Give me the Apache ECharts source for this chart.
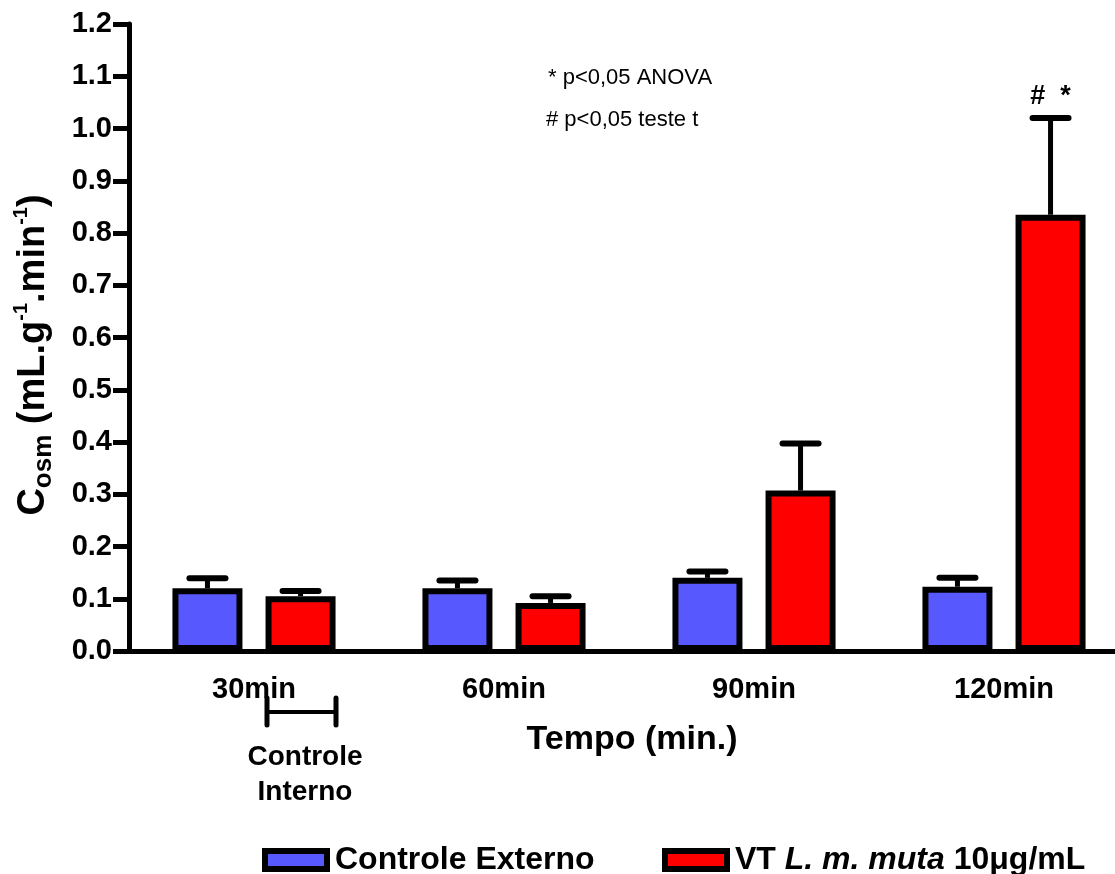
<!DOCTYPE html>
<html>
<head>
<meta charset="utf-8">
<script src="https://cdn.jsdelivr.net/npm/echarts@6/dist/echarts.min.js"></script>
<style>
html,body{margin:0;padding:0;background:#fff;}
#chart{width:1115px;height:874px;}
</style>
</head>
<body>
<div id="chart"></div>
<script>
// ---- data ----
const categories = ['30min', '60min', '90min', '120min'];
const externoMean = [0.120, 0.120, 0.140, 0.123];
const externoErr  = [0.019, 0.015, 0.012, 0.017];
const vtMean = [0.105, 0.092, 0.307, 0.835];
const vtErr  = [0.010, 0.013, 0.090, 0.185];
const vtSig  = ['', '', '', '#  *'];
const yTicks = { min: 0, max: 1.2, step: 0.1 };

const FONT = '"Liberation Sans", Arial, Helvetica, sans-serif';
const BAR_W = 70;
const BAR_GAP_FRAC = 0.33;
const BAR_GAP = (BAR_GAP_FRAC * 100) + '%';

function errorSeries(name, means, errs, idx, sig) {
  return {
    type: 'custom',
    name: name + ' err',
    z: 1,
    silent: true,
    data: means.map((m, i) => [i, m, m + errs[i], sig ? sig[i] : '']),
    encode: { x: 0, y: [1, 2] },
    renderItem: function (params, api) {
      const ci = api.value(0);
      const top = api.coord([ci, api.value(2)]);
      const base = api.coord([ci, api.value(1)]);
      let off;
      try {
        const layout = api.barLayout({ barWidth: BAR_W, barGap: BAR_GAP, count: 2 });
        off = layout[idx].offsetCenter;
      } catch (e) {
        const gap = BAR_W * BAR_GAP_FRAC;
        off = (idx === 0 ? -1 : 1) * (BAR_W + gap) / 2;
      }
      const x = top[0] + off;
      const capHalf = 18;
      const children = [
        { type: 'line', shape: { x1: x, y1: base[1], x2: x, y2: top[1] },
          style: { stroke: '#000', lineWidth: 5 } },
        { type: 'line', shape: { x1: x - capHalf, y1: top[1], x2: x + capHalf, y2: top[1] },
          style: { stroke: '#000', lineWidth: 6, lineCap: 'round' } }
      ];
      const s = api.value(3);
      if (s) {
        children.push({ type: 'text', x: x, y: top[1] - 22,
          style: { text: s, fontFamily: FONT, fontWeight: 'bold', fontSize: 27,
                   fill: '#000', align: 'center', verticalAlign: 'middle' } });
      }
      return { type: 'group', children: children };
    }
  };
}

const chart = echarts.init(document.getElementById('chart'), null, { renderer: 'canvas' });

const legendBase = {
  orient: 'horizontal',
  top: 844,
  padding: 0,
  itemWidth: 62,
  itemHeight: 18,
  itemGap: 4,
  icon: 'rect',
  selectedMode: false,
  textStyle: { fontFamily: FONT, fontWeight: 'bold', fontSize: 32, color: '#000', padding: [0, 0, 0, 3] }
};

chart.setOption({
  animation: false,
  backgroundColor: '#fff',
  grid: { left: 129, top: 24, width: 1000, height: 627, outerBoundsMode: 'none', containLabel: false },
  legend: [
    Object.assign({}, legendBase, {
      left: 262,
      data: [{ name: 'Controle Externo', itemStyle: { color: '#5858ff', borderColor: '#000', borderWidth: 6 } }]
    }),
    Object.assign({}, legendBase, {
      left: 662,
      data: [{ name: 'VT', itemStyle: { color: '#ff0000', borderColor: '#000', borderWidth: 6 } }],
      formatter: function () { return '{b|VT }{i|L. m. muta}{b| 10μg/mL}'; },
      textStyle: Object.assign({}, legendBase.textStyle, {
        rich: {
          b: { fontFamily: FONT, fontWeight: 'bold', fontSize: 32, color: '#000' },
          i: { fontFamily: FONT, fontWeight: 'bold', fontStyle: 'italic', fontSize: 32, color: '#000' }
        }
      })
    })
  ],
  xAxis: {
    type: 'category',
    data: categories,
    axisLine: { lineStyle: { color: '#000', width: 5 } },
    axisTick: { alignWithLabel: true, length: 14, lineStyle: { color: '#000', width: 5 } },
    axisLabel: { fontFamily: FONT, fontWeight: 'bold', fontSize: 29, color: '#000', margin: 24 },
    splitLine: { show: false }
  },
  yAxis: {
    type: 'value',
    min: yTicks.min,
    max: yTicks.max,
    interval: yTicks.step,
    axisLine: { show: true, lineStyle: { color: '#000', width: 5 } },
    axisTick: { show: true, length: 16, lineStyle: { color: '#000', width: 5 } },
    axisLabel: { fontFamily: FONT, fontWeight: 'bold', fontSize: 29, color: '#000', margin: 17,
                 formatter: v => v.toFixed(1) },
    splitLine: { show: false }
  },
  series: [
    { name: 'Controle Externo', type: 'bar', data: externoMean, barWidth: BAR_W, barGap: BAR_GAP, z: 2,
      itemStyle: { color: '#5858ff', borderColor: '#000', borderWidth: 6 } },
    { name: 'VT', type: 'bar', data: vtMean, barWidth: BAR_W, barGap: BAR_GAP, z: 2,
      itemStyle: { color: '#ff0000', borderColor: '#000', borderWidth: 6 } },
    errorSeries('Controle Externo', externoMean, externoErr, 0, null),
    errorSeries('VT', vtMean, vtErr, 1, vtSig)
  ],
  graphic: [
    { type: 'text', x: 34, y: 355, rotation: Math.PI / 2,
      style: {
        text: '{b|C}{sub|osm}{b| (mL.g}{sup|-1}{b|.min}{sup|-1}{b|)}',
        align: 'center', verticalAlign: 'middle',
        rich: {
          b: { fontFamily: FONT, fontWeight: 'bold', fontSize: 38, lineHeight: 46, color: '#000' },
          sub: { fontFamily: FONT, fontWeight: 'bold', fontSize: 26, lineHeight: 22, verticalAlign: 'bottom', color: '#000' },
          sup: { fontFamily: FONT, fontWeight: 'bold', fontSize: 20, lineHeight: 18, verticalAlign: 'top', color: '#000' }
        }
      } },
    { type: 'text', x: 632, y: 740,
      style: { text: 'Tempo (min.)', fontFamily: FONT, fontWeight: 'bold', fontSize: 34, fill: '#000',
               align: 'center', verticalAlign: 'middle' } },
    { type: 'text', x: 548, y: 78,
      style: { text: '* p<0,05 ANOVA', fontFamily: FONT, fontSize: 22, fill: '#000',
               align: 'left', verticalAlign: 'middle' } },
    { type: 'text', x: 546, y: 120,
      style: { text: '# p<0,05 teste t', fontFamily: FONT, fontSize: 22, fill: '#000',
               align: 'left', verticalAlign: 'middle' } },
    { type: 'line', shape: { x1: 267, y1: 712, x2: 336, y2: 712 }, style: { stroke: '#000', lineWidth: 4 } },
    { type: 'line', shape: { x1: 267, y1: 698, x2: 267, y2: 725 }, style: { stroke: '#000', lineWidth: 5, lineCap: 'round' } },
    { type: 'line', shape: { x1: 336, y1: 698, x2: 336, y2: 725 }, style: { stroke: '#000', lineWidth: 5, lineCap: 'round' } },
    { type: 'text', x: 305, y: 775,
      style: { text: 'Controle\nInterno', fontFamily: FONT, fontWeight: 'bold', fontSize: 28, lineHeight: 35,
               fill: '#000', align: 'center', verticalAlign: 'middle' } }
  ]
});
</script>
</body>
</html>
